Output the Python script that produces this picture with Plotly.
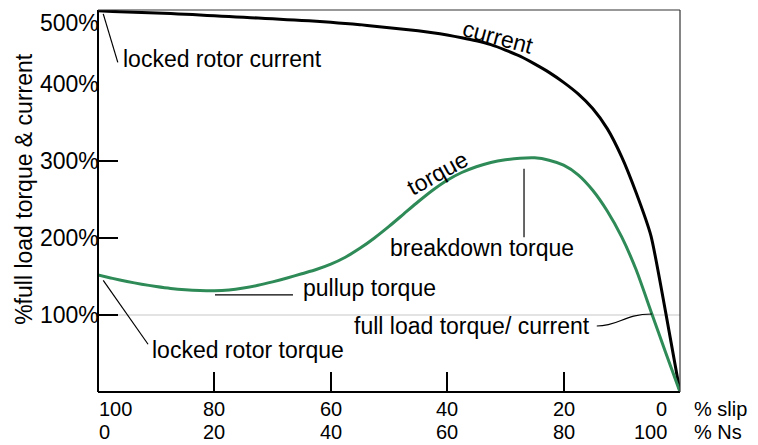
import plotly.graph_objects as go

# Induction motor speed-torque / speed-current characteristic (values in % of full load)
slip = [100, 97.5, 95, 92.5, 90, 87.5, 85, 82.5, 80, 77.5, 75, 72.5, 70, 67.5, 65, 62.5, 60,
        57.5, 55, 52.5, 50, 47.5, 45, 42.5, 40, 37.5, 35, 32.5, 30, 27.5, 25, 22.5, 20,
        17.5, 15, 12.5, 10, 7.5, 5, 2.5, 0]
torque_pct = [152, 147.5, 143.5, 140, 137, 134.5, 132.8, 131.8, 131.5, 132.5, 135, 138.5, 143,
              148, 153.5, 159, 166, 175, 186.5, 200, 215, 231, 247, 262, 275, 285, 292.5, 298,
              301.5, 303.5, 304, 301, 294.5, 282, 262, 235, 201, 158, 105, 52, 0]
current_pct = [495, 494.2, 493.5, 492.8, 492, 491.3, 490.5, 489.5, 488.5, 487.5, 486.5, 485.5,
               484.5, 483.5, 482.5, 481.3, 480, 478.5, 477, 475, 473, 471, 469, 466.5, 463.5,
               460, 456, 451, 444, 436, 426, 415, 402, 387, 368, 342, 305, 258, 203, 105, 0]

y_tick_vals = [100, 200, 300, 400]
y_tick_text = ["100%", "200%", "300%", "400%"]
slip_ticks = [80, 60, 40, 20]
ns_ticks = [20, 40, 60, 80]

FONT = "Liberation Sans, Arial, Helvetica, sans-serif"
FS = 23
GREEN = "#2e8b57"

fig = go.Figure()

fig.add_trace(go.Scatter(x=slip, y=current_pct, mode="lines",
                         line=dict(color="black", width=3, shape="spline", smoothing=0.6),
                         hoverinfo="skip", showlegend=False))
fig.add_trace(go.Scatter(x=slip, y=torque_pct, mode="lines",
                         line=dict(color=GREEN, width=3, shape="spline", smoothing=0.6),
                         hoverinfo="skip", showlegend=False))

shapes = [
    # full load reference line
    dict(type="line", xref="paper", yref="y", x0=0, x1=1, y0=100, y1=100,
         line=dict(color="#c8c8c8", width=1.2), layer="below"),
    # frame
    dict(type="line", xref="paper", yref="paper", x0=0, x1=0, y0=0, y1=1, line=dict(color="black", width=2)),
    dict(type="line", xref="paper", yref="paper", x0=0, x1=1, y0=0, y1=0, line=dict(color="black", width=2)),
    dict(type="line", xref="paper", yref="paper", x0=0, x1=1, y0=1, y1=1, line=dict(color="#333", width=1.2)),
    dict(type="line", xref="paper", yref="paper", x0=1, x1=1, y0=0, y1=1, line=dict(color="#333", width=1.2)),
    # leader lines
    dict(type="line", x0=99.1, y0=491, x1=96.6, y1=428, line=dict(color="black", width=1.2)),
    dict(type="line", x0=99.1, y0=145, x1=91.4, y1=62, line=dict(color="black", width=1.2)),
    dict(type="line", x0=79.9, y0=126, x1=66.5, y1=126, line=dict(color="black", width=1.2)),
    dict(type="line", x0=26.8, y0=290, x1=26.8, y1=201, line=dict(color="black", width=1.2)),
    dict(type="path", path="M 14.3,85.7 C 10.3,85.7 9.8,101.3 4.8,101.3", line=dict(color="black", width=1.2)),
]

ann = []
def txt(x, y, s, xanchor="center", yanchor="middle", angle=0, xref="x", yref="y", size=FS, pad=1):
    ann.append(dict(x=x, y=y, text=s, xref=xref, yref=yref, xanchor=xanchor, yanchor=yanchor,
                    textangle=angle, showarrow=False, borderpad=pad,
                    font=dict(family=FONT, size=size, color="black")))

# y tick labels
for v, t in zip(y_tick_vals, y_tick_text):
    txt(0.006, v, t, xanchor="right", xref="paper")
txt(0.006, 479, "500%", xanchor="right", xref="paper")

# x tick labels: % slip on the first row, % synchronous speed on the second
row1, row2 = -0.0458, -0.1060
TS = 20
txt(100, row1, "100", xanchor="left", yref="paper", size=TS, pad=0)
txt(100, row2, "0", xanchor="left", yref="paper", size=TS, pad=0)
for s, n in zip(slip_ticks, ns_ticks):
    txt(s, row1, str(s), yref="paper", size=TS, pad=0)
    txt(s, row2, str(n), yref="paper", size=TS, pad=0)
txt(2.06, row1, "0", xanchor="right", yref="paper", size=TS, pad=0)
txt(2.06, row2, "100", xanchor="right", yref="paper", size=TS, pad=0)
txt(1.0223, row1, "% slip", xanchor="left", xref="paper", yref="paper", size=TS, pad=0)
txt(1.0223, row2, "% Ns", xanchor="left", xref="paper", yref="paper", size=TS, pad=0)

# axis title
txt(-0.127, 0.532, "%full load torque & current", angle=-90, xref="paper", yref="paper", size=23)

# curve labels
txt(96.05, 432, "locked rotor current", xanchor="left")
txt(31.3, 461, "current", angle=15)
txt(41.6, 284, "torque", angle=-29)
txt(34.1, 187, "breakdown torque")
txt(65.1, 135, "pullup torque", xanchor="left")
txt(15.1, 85.7, "full load torque/ current", xanchor="right")
txt(91.1, 54.5, "locked rotor torque", xanchor="left")

fig.update_layout(
    width=758, height=445,
    margin=dict(l=98, r=78, t=10, b=53),
    paper_bgcolor="white", plot_bgcolor="white",
    shapes=shapes, annotations=ann,
    xaxis=dict(range=[100, 0], showgrid=False, zeroline=False, showline=False,
               tickvals=slip_ticks, ticks="inside", ticklen=20, tickwidth=1.5, tickcolor="black",
               showticklabels=False, fixedrange=True),
    yaxis=dict(range=[0, 496], showgrid=False, zeroline=False, showline=False,
               tickvals=[100, 200, 300], ticks="inside", ticklen=20, tickwidth=1.5, tickcolor="black",
               showticklabels=False, fixedrange=True),
)

fig.write_html("out.html", config={"displayModeBar": False})
